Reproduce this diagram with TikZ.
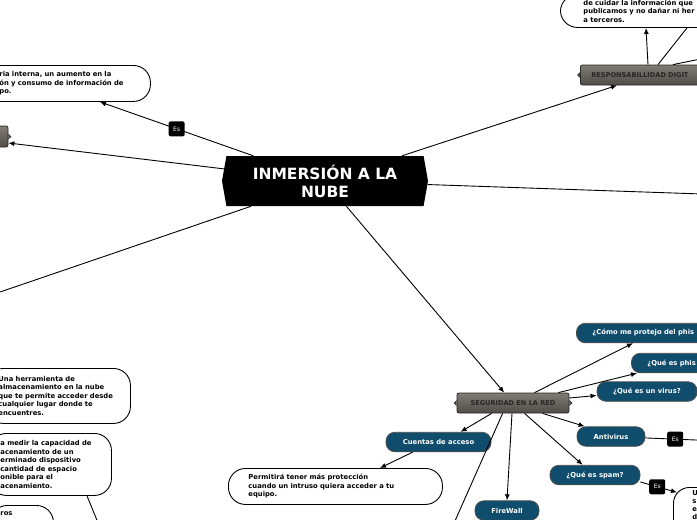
\documentclass[tikz,border=0pt]{standalone}
\usepackage{fontspec}
\setmainfont{DejaVu Sans}
\usetikzlibrary{arrows.meta,shapes.symbols}
\definecolor{nodeBlue}{RGB}{16,76,108}
\definecolor{grayTop}{RGB}{128,123,117}
\definecolor{grayBot}{RGB}{80,76,71}

\begin{document}
\begin{tikzpicture}[x=1pt,y=-1pt,
	conn/.style={line width=0.9pt},
	arr/.style={conn,-{Latex[length=6pt,width=5pt]}},
	topicBox/.style={rectangle,draw=black!85,line width=0.8pt,top color=grayTop,bottom color=grayBot,rounded corners=2pt,minimum height=20pt,inner sep=0pt,font=\fontsize{6.6}{8}\bfseries,text=black!85},
	blueBox/.style={rectangle,draw=black!70,line width=0.8pt,fill=nodeBlue,rounded corners=9pt,minimum height=19.5pt,inner sep=0pt,font=\fontsize{6.8}{8}\bfseries,text=white},
	noteBox/.style={rectangle,draw=black,line width=0.9pt,fill=white,rounded corners=17pt,align=left,inner ysep=0pt,font=\fontsize{6.8}{8.5}\bfseries},
	esTag/.style={rectangle,fill=black,rounded corners=2pt,minimum width=16pt,minimum height=15pt,inner sep=0pt,text=white,font=\fontsize{6}{7}\selectfont}]
	\path[use as bounding box](0,0) rectangle (697,520);
	\clip(0,0) rectangle (697,520);

	\coordinate(rightOut) at (760,196);
	\coordinate(leftOut) at (-60,312.5);
	\coordinate(respOut) at (730,53);
	\coordinate(segOut) at (451,530);
	\coordinate(antiOut) at (720,441);
	\coordinate(measureOut) at (101,530);

	\node[signal,signal to=west and east,signal pointer angle=160,fill=black,minimum width=206pt,minimum height=50pt,inner sep=0pt,align=center,text=white,font=\fontsize{15.5}{18}\bfseries](centerBox) at (325,181){INMERSIÓN A LA\\NUBE};

	\node[topicBox,minimum width=70pt,minimum height=21pt](leftBox) at (-27,136.5){};
	\node[topicBox,anchor=west,minimum width=180pt,text width=158pt,align=left](respBox) at (580,75){RESPONSABILLIDAD DIGIT};
	\node[topicBox,minimum width=112pt](segBox) at (513,403){SEGURIDAD EN LA RED};

	\node[noteBox,anchor=north west,inner xsep=19pt,text width=132pt,minimum height=36pt](topLeftBox) at (-20,65){ria interna, un aumento en la\\ón y consumo de información de\\po.};
	\node[noteBox,anchor=north west,inner xsep=23pt,text width=160pt,minimum height=33pt](topRightBox) at (560,-6){de cuidar la información que\\publicamos y no dañar ni her\\a terceros.};
	\node[noteBox,anchor=north west,inner xsep=12pt,text width=120pt,minimum height=55pt](herramBox) at (-14,368){Una herramienta de\\almacenamiento en la nube\\que te permite acceder desde\\cualquier lugar donde te\\encuentres.};
	\node[noteBox,anchor=north west,inner xsep=11pt,text width=100pt,minimum height=62pt](measureBox) at (-11,433){a medir la capacidad de\\acenamiento de un\\erminado dispositivo\\cantidad de espacio\\onible para el\\acenamiento.};
	\node[noteBox,anchor=north west,inner xsep=10pt,inner ysep=4.5pt,text width=43pt,text height=5.5pt,text depth=25pt](rosBox) at (-10,505){ros};
	\node[noteBox,anchor=north west,inner xsep=20pt,text width=174pt,minimum height=36pt](permitBox) at (228,468){Permitirá tener más protección\\cuando un intruso quiera acceder a tu\\equipo.};
	\node[noteBox,anchor=north west,inner xsep=19pt,inner ysep=3pt,text width=40pt,text height=5.5pt,text depth=40pt,rounded corners=16pt,font=\fontsize{6.8}{8}\bfseries](spamText) at (673,487){U\\s\\e\\d};

	\node[blueBox,anchor=west,minimum width=160pt,text width=128pt,align=left](phishHowBox) at (576,333){¿Cómo me protejo del phis};
	\node[blueBox,anchor=west,minimum width=100pt,text width=68pt,align=left](phishWhatBox) at (631,363){¿Qué es phis};
	\node[blueBox,minimum width=100pt](virusBox) at (647,391.5){¿Qué es un virus?};
	\node[blueBox,minimum width=68pt](antivirusBox) at (611,436.5){Antivirus};
	\node[blueBox,minimum width=90pt](spamBox) at (595,475){¿Qué es spam?};
	\node[blueBox,minimum width=105pt](cuentasBox) at (438.5,442){Cuentas de acceso};
	\node[blueBox,minimum width=64pt](firewallBox) at (507,510.5){FireWall};

	\foreach \a/\s in {segBox.west/-1,segBox.east/1,respBox.west/-1,leftBox.east/1}
		\filldraw[fill=grayBot,draw=black!85,line width=0.5pt]([yshift=2.5pt]\a) -- ([xshift=\s*2.5pt]\a) -- ([yshift=-2.5pt]\a);

	\draw[arr](centerBox) -- node[esTag](esTop){Es} ([xshift=120pt]topLeftBox.south west);
	\draw[arr](centerBox) -- ([yshift=-6.5pt]leftBox.east);
	\draw[arr](centerBox) -- ([xshift=37pt]respBox.south west);
	\draw[conn](centerBox) -- (rightOut);
	\draw[conn](centerBox) -- (leftOut);
	\draw[arr](centerBox) -- (segBox);

	\draw[arr]([xshift=68pt]respBox.north west) -- ([xshift=86pt]topRightBox.south west);
	\draw[conn]([xshift=78pt]respBox.north west) -- ([xshift=127pt]topRightBox.south west);
	\draw[conn]([xshift=93pt]respBox.north west) -- (respOut);

	\draw[arr]([xshift=78pt]segBox.north west) -- ([xshift=57pt]phishHowBox.south west);
	\draw[arr]([xshift=-11pt]segBox.north east) -- ([xshift=6pt]phishWhatBox.south west);
	\draw[arr]([yshift=5pt]segBox.east) -- ([yshift=-4pt]virusBox.west);
	\draw[arr]([xshift=86pt]segBox.south west) -- ([xshift=8pt]antivirusBox.north west);
	\draw[arr]([xshift=68pt]segBox.south west) -- ([xshift=33pt]spamBox.north west);
	\draw[arr]([xshift=35pt]segBox.south west) -- ([xshift=75pt]cuentasBox.north west);
	\draw[arr]([xshift=-1pt]segBox.south) -- (firewallBox.north);
	\draw[conn]([xshift=46pt]segBox.south west) -- (segOut);

	\draw[arr]([xshift=27pt]cuentasBox.south west) -- ([xshift=152pt]permitBox.north west);
	\draw[conn](antivirusBox) -- node[esTag,pos=0.4](esAnti){Es} (antiOut);
	\draw[arr]([yshift=-7pt]spamBox.east) -- node[esTag,pos=0.46](esSpam){Es} ([xshift=4pt,yshift=-5.4pt]spamText.north west);
	\draw[conn]([xshift=98pt]measureBox.south west) -- (measureOut);
\end{tikzpicture}
\end{document}
